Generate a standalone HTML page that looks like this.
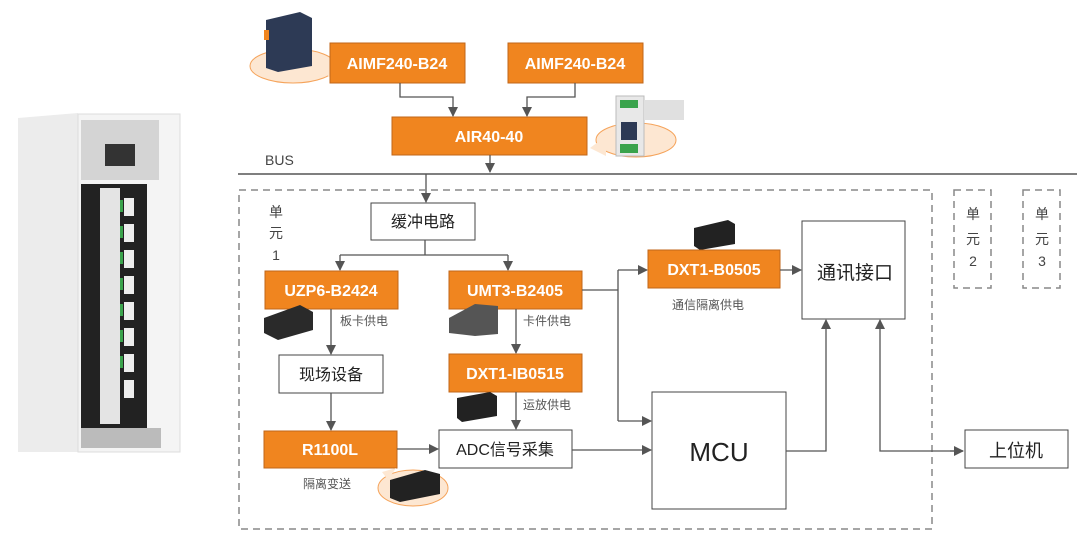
<!DOCTYPE html>
<html><head><meta charset="utf-8"><style>
html,body{margin:0;padding:0;background:#fff;}
svg{display:block;}
text{font-family:"Liberation Sans","Noto Sans CJK SC",sans-serif;}
.ob{fill:#F0851F;stroke:#c0661a;stroke-width:1;}
.ot{fill:#fff;font-weight:bold;font-size:16px;text-anchor:middle;}
.wb{fill:#fff;stroke:#444;stroke-width:1;}
.wt{fill:#222;font-size:16px;text-anchor:middle;}
.ln{stroke:#555;stroke-width:1.3;fill:none;}
.lbl{fill:#555;font-size:12px;}
.dash{fill:none;stroke:#888;stroke-width:1.5;stroke-dasharray:7,5;}
.bub{fill:#fde7d2;stroke:#f5a35a;stroke-width:1;}
</style></head><body>
<svg width="1077" height="534" viewBox="0 0 1077 534" xmlns="http://www.w3.org/2000/svg">
<defs><marker id="a" markerWidth="10" markerHeight="10" refX="9" refY="5" orient="auto" markerUnits="userSpaceOnUse"><path d="M0,0 L10,5 L0,10 z" fill="#555"/></marker></defs>

<!-- cabinet -->
<polygon points="18,118 78,113 78,452 18,452" fill="#ececec"/>
<rect x="78" y="114" width="102" height="338" fill="#f4f4f4" stroke="#ddd"/>
<rect x="81" y="120" width="78" height="60" fill="#d4d4d4"/>
<rect x="105" y="144" width="30" height="22" fill="#333"/>
<rect x="81" y="184" width="66" height="244" fill="#222"/>
<rect x="100" y="188" width="20" height="236" fill="#e4e4e4"/>
<g fill="#3aa34c"><rect x="120" y="200" width="3" height="12"/><rect x="120" y="226" width="3" height="12"/><rect x="120" y="252" width="3" height="12"/><rect x="120" y="278" width="3" height="12"/><rect x="120" y="304" width="3" height="12"/><rect x="120" y="330" width="3" height="12"/><rect x="120" y="356" width="3" height="12"/></g>
<g fill="#eee"><rect x="124" y="198" width="10" height="18"/><rect x="124" y="224" width="10" height="18"/><rect x="124" y="250" width="10" height="18"/><rect x="124" y="276" width="10" height="18"/><rect x="124" y="302" width="10" height="18"/><rect x="124" y="328" width="10" height="18"/><rect x="124" y="354" width="10" height="18"/><rect x="124" y="380" width="10" height="18"/></g>
<rect x="81" y="428" width="80" height="20" fill="#bbb"/>

<!-- top products -->
<ellipse cx="293" cy="66" rx="43" ry="17" class="bub"/>
<polygon points="320,70 334,60 334,80" fill="#fde7d2"/>
<polygon points="266,20 300,12 312,18 312,66 278,72 266,68" fill="#2d3a55"/>
<rect x="264" y="30" width="5" height="10" fill="#f0851f"/>
<ellipse cx="636" cy="140" rx="40" ry="17" class="bub"/>
<polygon points="590,148 606,136 606,156" fill="#fde7d2"/>
<rect x="616" y="96" width="28" height="60" fill="#e8e8e8" stroke="#bbb"/>
<rect x="620" y="100" width="18" height="8" fill="#3aa34c"/>
<rect x="620" y="144" width="18" height="9" fill="#3aa34c"/>
<rect x="621" y="122" width="16" height="18" fill="#2d3a55"/>
<rect x="644" y="100" width="40" height="20" fill="#e0e0e0"/>

<!-- top boxes -->
<rect x="330" y="43" width="135" height="40" class="ob"/><text x="397" y="69" class="ot">AIMF240-B24</text>
<rect x="508" y="43" width="135" height="40" class="ob"/><text x="575" y="69" class="ot">AIMF240-B24</text>
<rect x="392" y="117" width="195" height="38" class="ob"/><text x="489" y="142" class="ot">AIR40-40</text>
<path d="M400,83 V97 H453 V116" class="ln" marker-end="url(#a)"/>
<path d="M575,83 V97 H527 V116" class="ln" marker-end="url(#a)"/>
<path d="M490,155 V172" class="ln" marker-end="url(#a)"/>
<text x="265" y="165" fill="#444" font-size="14">BUS</text>
<line x1="238" y1="174" x2="1077" y2="174" stroke="#555" stroke-width="1.5"/>
<path d="M426,174 V202" class="ln" marker-end="url(#a)"/>

<!-- dashed -->
<rect x="239" y="190" width="693" height="339" class="dash"/>
<rect x="954" y="190" width="37" height="98" class="dash"/>
<rect x="1023" y="190" width="37" height="98" class="dash"/>
<g fill="#444" font-size="14" text-anchor="middle">
<text x="276" y="217">单</text><text x="276" y="238">元</text><text x="276" y="260">1</text>
<text x="973" y="219">单</text><text x="973" y="244">元</text><text x="973" y="266">2</text>
<text x="1042" y="219">单</text><text x="1042" y="244">元</text><text x="1042" y="266">3</text>
</g>

<!-- unit 1 -->
<rect x="371" y="203" width="104" height="37" class="wb"/><text x="423" y="227" class="wt">缓冲电路</text>
<path d="M425,240 V255 M340,255 H508" class="ln"/>
<path d="M340,255 V270" class="ln" marker-end="url(#a)"/>
<path d="M508,255 V270" class="ln" marker-end="url(#a)"/>
<rect x="265" y="271" width="133" height="38" class="ob"/><text x="331" y="296" class="ot">UZP6-B2424</text>
<rect x="449" y="271" width="133" height="38" class="ob"/><text x="515" y="296" class="ot">UMT3-B2405</text>
<polygon points="264,318 300,305 313,312 313,330 278,340 264,333" fill="#2a2a2a"/>
<polygon points="449,318 475,304 498,306 498,334 475,336 449,333" fill="#555"/>
<text x="340" y="325" class="lbl">板卡供电</text>
<text x="523" y="325" class="lbl">卡件供电</text>
<path d="M331,309 V354" class="ln" marker-end="url(#a)"/>
<path d="M516,309 V353" class="ln" marker-end="url(#a)"/>
<rect x="279" y="355" width="104" height="38" class="wb"/><text x="331" y="380" class="wt">现场设备</text>
<rect x="449" y="354" width="133" height="38" class="ob"/><text x="515" y="379" class="ot">DXT1-IB0515</text>
<polygon points="457,398 490,392 497,396 497,416 462,422 457,418" fill="#222"/>
<text x="523" y="409" class="lbl">运放供电</text>
<path d="M331,393 V430" class="ln" marker-end="url(#a)"/>
<path d="M516,392 V429" class="ln" marker-end="url(#a)"/>
<rect x="264" y="431" width="133" height="37" class="ob"/><text x="330" y="455" class="ot">R1100L</text>
<rect x="439" y="430" width="133" height="38" class="wb"/><text x="505" y="455" class="wt">ADC信号采集</text>
<path d="M397,449 H438" class="ln" marker-end="url(#a)"/>
<text x="303" y="488" class="lbl">隔离变送</text>
<ellipse cx="413" cy="488" rx="35" ry="18" class="bub"/>
<polygon points="382,472 396,468 388,480" fill="#fde7d2"/>
<polygon points="390,480 425,470 440,474 440,494 400,502 390,498" fill="#222"/>

<!-- right part -->
<path d="M582,290 H618" class="ln"/>
<path d="M618,270 V421" class="ln"/>
<path d="M618,270 H647" class="ln" marker-end="url(#a)"/>
<path d="M618,421 H651" class="ln" marker-end="url(#a)"/>
<path d="M572,450 H651" class="ln" marker-end="url(#a)"/>
<polygon points="694,228 728,220 735,224 735,244 700,250 694,246" fill="#222"/>
<rect x="648" y="250" width="132" height="38" class="ob"/><text x="714" y="275" class="ot">DXT1-B0505</text>
<text x="672" y="309" class="lbl">通信隔离供电</text>
<path d="M780,270 H801" class="ln" marker-end="url(#a)"/>
<rect x="802" y="221" width="103" height="98" class="wb"/><text x="855" y="279" class="wt" style="font-size:19px">通讯接口</text>
<rect x="652" y="392" width="134" height="117" class="wb"/><text x="719" y="461" class="wt" style="font-size:26px">MCU</text>
<path d="M786,451 H826 V320" class="ln" marker-end="url(#a)"/>
<path d="M963,451 H880 V320" class="ln" marker-end="url(#a)"/>
<path d="M950,451 H963" class="ln" marker-end="url(#a)"/>
<rect x="965" y="430" width="103" height="38" class="wb"/><text x="1016" y="457" class="wt" style="font-size:18px">上位机</text>
</svg>
</body></html>
